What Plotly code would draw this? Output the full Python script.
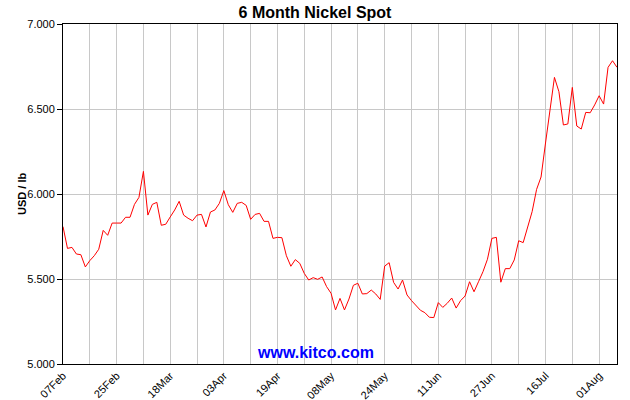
import plotly.graph_objects as go

# Nickel spot price, USD/lb, one value per trading day
prices = [
    5.808, 5.680, 5.686, 5.647, 5.643, 5.571, 5.608, 5.637, 5.675, 5.786,
    5.757, 5.829, 5.829, 5.829, 5.863, 5.863, 5.939, 5.980, 6.133, 5.876,
    5.939, 5.951, 5.816, 5.822, 5.865, 5.906, 5.957, 5.876, 5.857, 5.843,
    5.876, 5.880, 5.806, 5.894, 5.906, 5.945, 6.020, 5.937, 5.892, 5.945,
    5.951, 5.933, 5.851, 5.880, 5.886, 5.839, 5.839, 5.739, 5.745, 5.743,
    5.637, 5.575, 5.614, 5.592, 5.533, 5.494, 5.508, 5.498, 5.512, 5.455,
    5.416, 5.318, 5.386, 5.318, 5.382, 5.463, 5.475, 5.412, 5.414, 5.435,
    5.412, 5.380, 5.576, 5.596, 5.480, 5.441, 5.494, 5.406, 5.373, 5.343,
    5.316, 5.302, 5.275, 5.273, 5.361, 5.333, 5.357, 5.388, 5.329, 5.373,
    5.400, 5.484, 5.425, 5.484, 5.543, 5.616, 5.739, 5.745, 5.481, 5.561,
    5.561, 5.612, 5.725, 5.714, 5.808, 5.896, 6.027, 6.100, 6.300, 6.500,
    6.686, 6.602, 6.406, 6.412, 6.627, 6.400, 6.382, 6.480, 6.478, 6.524,
    6.578, 6.529, 6.745, 6.784, 6.745,
]

date_labels = ["07Feb", "25Feb", "18Mar", "03Apr", "19Apr", "08May",
               "24May", "11Jun", "27Jun", "16Jul", "01Aug"]

y_ticks = [5.0, 5.5, 6.0, 6.5, 7.0]

x = list(range(len(prices)))
label_step = 12
grid_step = 6

tickvals = list(range(0, len(prices), grid_step))
ticktext = []
for v in tickvals:
    if v % label_step == 0 and v // label_step < len(date_labels):
        ticktext.append(date_labels[v // label_step])
    else:
        ticktext.append("")

W, H = 630, 400
ML, MR, MT, MB = 63, 13, 24, 36
PW, PH = W - ML - MR, H - MT - MB

fig = go.Figure()
fig.add_trace(go.Scatter(
    x=x, y=prices, mode="lines",
    line=dict(color="#ff0000", width=1),
    hoverinfo="skip", showlegend=False,
))

font_family = "Liberation Sans, Arial, sans-serif"

fig.update_layout(
    width=W, height=H,
    margin=dict(l=ML, r=MR, t=MT, b=MB),
    paper_bgcolor="white",
    plot_bgcolor="white",
    font=dict(family=font_family, size=11, color="black"),
    title=dict(
        text="<b>6 Month Nickel Spot</b>",
        x=0.5, xanchor="center", xref="container",
        y=1 - 12 / H, yanchor="middle", yref="container",
        font=dict(size=16, color="black", family=font_family),
    ),
    xaxis=dict(
        range=[0, len(prices) - 1],
        tickmode="array", tickvals=tickvals, ticktext=ticktext,
        tickangle=-45,
        showgrid=True, gridcolor="#c8c8c8", gridwidth=1,
        showline=True, linecolor="black", linewidth=1, mirror=True,
        ticks="", zeroline=False,
        tickfont=dict(size=11, color="black", family=font_family),
        automargin=False,
    ),
    yaxis=dict(
        range=[5.0, 7.0],
        tickmode="array", tickvals=y_ticks,
        ticktext=[f"{v:.3f}" for v in y_ticks],
        showgrid=True, gridcolor="#c8c8c8", gridwidth=1,
        showline=True, linecolor="black", linewidth=1, mirror=True,
        ticks="outside", ticklen=5, tickcolor="black",
        zeroline=False,
        tickfont=dict(size=11, color="black", family=font_family),
        automargin=False,
    ),
    annotations=[
        dict(
            text="<b>USD / lb</b>",
            xref="paper", yref="paper",
            x=(22 - ML) / PW, y=0.5,
            xanchor="center", yanchor="middle",
            textangle=-90, showarrow=False,
            font=dict(size=11, color="black", family=font_family),
        ),
        dict(
            text="<b>www.kitco.com</b>",
            xref="paper", yref="paper",
            x=(315 - ML) / PW, y=(H - MB - 352) / PH,
            xanchor="center", yanchor="middle",
            showarrow=False,
            font=dict(size=16, color="#0000ff", family=font_family),
        ),
    ],
)

fig.write_html(
    "out.html",
    config={"displayModeBar": False},
    post_script="document.body.style.margin='0';document.body.style.padding='0';",
)
